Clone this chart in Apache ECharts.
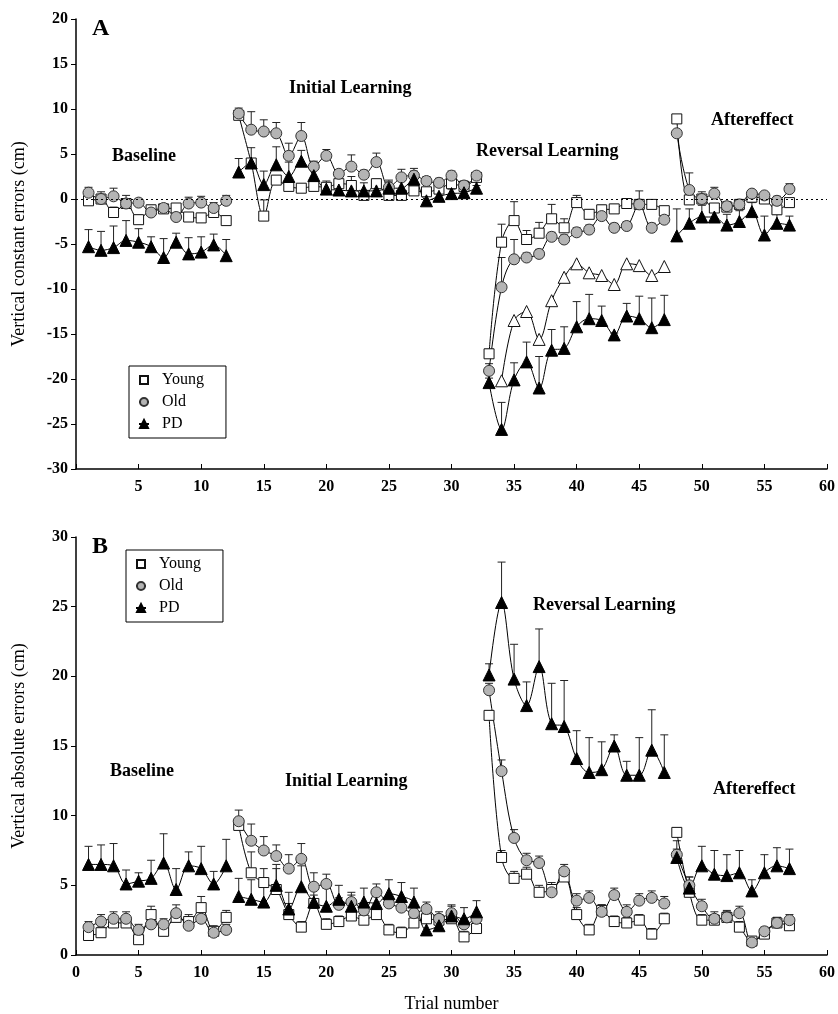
<!DOCTYPE html>
<html>
<head>
<meta charset="utf-8">
<script src="https://cdn.jsdelivr.net/npm/echarts@6/dist/echarts.min.js"></script>
<style>
html,body{margin:0;padding:0;background:#fff;}
#chart{width:838px;height:1014px;}
</style>
</head>
<body>
<div id="chart"></div>
<script>
// ---------- data ----------
const groups = ['Young', 'Old', 'PD'];
const phases = [[1, 12], [13, 32], [33, 47], [48, 57]];
const xTicks = [0, 5, 10, 15, 20, 25, 30, 35, 40, 45, 50, 55, 60];

// Panel A: vertical constant errors (cm), trials 1..57
const A_young = [-0.2, 0.0, -1.5, -0.5, -2.3, -1.2, -1.1, -1.0, -2.0, -2.1, -1.5, -2.4,
  9.3, 4.0, -1.9, 2.1, 1.4, 1.2, 1.4, 1.3, 1.7, 1.5, 0.4, 1.7, 0.4, 0.4, 0.9, 0.8, 1.1, 1.7, 1.4, 2.4,
  -17.2, -4.8, -2.4, -4.5, -3.8, -2.2, -3.2, -0.4, -1.7, -1.2, -1.1, -0.5, -0.6, -0.6, -1.3,
  8.9, -0.1, 0.0, -1.0, -0.9, -0.6, 0.2, 0.0, -1.2, -0.4];
const A_old = [0.7, 0.0, 0.3, -0.5, -0.4, -1.5, -1.0, -2.0, -0.5, -0.4, -1.0, -0.2,
  9.5, 7.7, 7.5, 7.3, 4.8, 7.0, 3.6, 4.8, 2.8, 3.6, 2.7, 4.1, 1.3, 2.4, 2.6, 2.0, 1.8, 2.6, 1.5, 2.6,
  -19.1, -9.8, -6.7, -6.5, -6.1, -4.2, -4.5, -3.7, -3.4, -1.9, -3.2, -3.0, -0.6, -3.2, -2.3,
  7.3, 1.0, 0.0, 0.6, -0.8, -0.6, 0.6, 0.4, -0.2, 1.1];
const A_pd = [-5.3, -5.7, -5.4, -4.6, -4.8, -5.3, -6.5, -4.8, -6.1, -5.9, -5.1, -6.3,
  3.0, 4.0, 1.6, 3.8, 2.5, 4.2, 2.6, 1.1, 1.0, 0.9, 0.9, 0.9, 1.2, 1.2, 2.2, -0.2, 0.3, 0.6, 0.7, 1.2,
  -20.4, -25.6, -20.1, -18.1, -21.0, -16.8, -16.6, -14.2, -13.3, -13.5, -15.1, -13.0, -13.3, -14.3, -13.4,
  -4.1, -2.7, -2.0, -2.0, -2.9, -2.5, -1.4, -4.0, -2.7, -2.9];
// open triangles, reversal trials 34..47
const A_open_trials = [34, 35, 36, 37, 38, 39, 40, 41, 42, 43, 44, 45, 46, 47];
const A_open = [-20.2, -13.5, -12.5, -15.6, -11.3, -8.7, -7.2, -8.2, -8.5, -9.5, -7.2, -7.4, -8.5, -7.5];

const A_young_err = [0.5, 0.5, 0.6, 0.5, 0.5, 0.5, 0.5, 0.5, 0.5, 0.5, 0.5, 0.4,
  0.3, 0.5, 1.8, 0.5, 0.4, 0.4, 0.4, 0.4, 0.5, 1.0, 0.4, 0.5, 0.4, 0.4, 0.4, 0.4, 0.4, 0.5, 0.4, 0.4,
  0.5, 2.0, 2.1, 1.0, 1.2, 1.6, 1.0, 0.8, 0.5, 0.5, 0.5, 0.5, 0.5, 0.2, 0.4,
  0.3, 0.5, 0.8, 0.5, 0.5, 0.5, 0.3, 0.3, 0.5, 0.3];
const A_old_err = [0.6, 0.8, 0.9, 0.9, 0.4, 0.4, 0.4, 0.4, 0.7, 0.7, 0.6, 0.6,
  0.6, 2.0, 1.3, 1.2, 1.4, 1.5, 0.6, 0.7, 0.3, 1.3, 0.5, 1.0, 0.6, 0.9, 0.8, 0.5, 0.5, 0.5, 0.5, 0.3,
  0.8, 3.3, 2.2, 0.5, 0.5, 0.5, 0.5, 0.5, 0.5, 0.5, 0.5, 0.5, 1.5, 0.5, 0.5,
  0.3, 1.9, 0.5, 0.7, 0.5, 0.5, 0.3, 0.3, 0.5, 0.6];
const A_pd_err = [1.9, 2.1, 2.4, 2.2, 1.5, 1.1, 2.1, 1.0, 1.8, 1.7, 1.2, 1.8,
  1.5, 1.7, 1.5, 2.0, 1.6, 1.2, 1.4, 0.9, 1.6, 0.9, 0.9, 0.9, 0.9, 0.9, 0.9, 0.5, 0.5, 0.5, 0.5, 0.3,
  0.5, 3.0, 1.9, 2.2, 3.5, 2.3, 2.4, 2.8, 2.7, 1.6, 0.2, 1.4, 2.5, 3.3, 2.7,
  3.0, 1.6, 1.3, 1.4, 1.2, 1.2, 1.0, 2.1, 1.0, 1.0];

// Panel B: vertical absolute errors (cm)
const B_young = [1.4, 1.6, 2.3, 2.3, 1.1, 2.9, 1.7, 2.7, 2.4, 3.4, 1.7, 2.7,
  9.3, 5.9, 5.2, 4.7, 2.9, 2.0, 3.7, 2.2, 2.4, 2.8, 2.5, 2.9, 1.8, 1.6, 2.3, 2.6, 2.5, 2.6, 1.3, 1.9,
  17.2, 7.0, 5.5, 5.8, 4.5, 4.7, 5.6, 2.9, 1.8, 3.2, 2.4, 2.3, 2.5, 1.5, 2.6,
  8.8, 4.5, 2.5, 2.5, 2.7, 2.0, 1.0, 1.5, 2.3, 2.1];
const B_old = [2.0, 2.4, 2.6, 2.6, 1.8, 2.2, 2.2, 3.0, 2.1, 2.6, 1.6, 1.8,
  9.6, 8.2, 7.5, 7.1, 6.2, 6.9, 4.9, 5.1, 3.6, 3.8, 3.2, 4.5, 3.7, 3.4, 3.0, 3.3, 2.6, 3.0, 2.2, 2.6,
  19.0, 13.2, 8.4, 6.8, 6.6, 4.5, 6.0, 3.9, 4.1, 3.1, 4.3, 3.1, 3.9, 4.1, 3.7,
  7.2, 5.0, 3.5, 2.6, 2.7, 3.0, 0.9, 1.7, 2.3, 2.5];
const B_pd = [6.5, 6.5, 6.4, 5.1, 5.3, 5.5, 6.6, 4.7, 6.4, 6.2, 5.1, 6.4,
  4.2, 4.0, 3.8, 5.0, 3.3, 4.9, 3.8, 3.5, 4.0, 3.5, 3.8, 3.7, 4.4, 4.2, 3.8, 1.8, 2.1, 2.8, 2.6, 3.1,
  20.1, 25.3, 19.8, 17.9, 20.7, 16.6, 16.4, 14.1, 13.1, 13.3, 15.0, 12.9, 12.9, 14.7, 13.1,
  7.0, 4.8, 6.4, 5.8, 5.7, 5.9, 4.6, 5.9, 6.4, 6.2];

const B_young_err = [0.3, 0.4, 0.4, 0.4, 0.3, 0.6, 0.4, 0.5, 0.5, 0.8, 0.4, 0.5,
  0.3, 1.5, 1.0, 1.5, 0.8, 0.4, 0.6, 0.4, 0.4, 0.5, 0.4, 0.5, 0.4, 0.4, 0.4, 0.4, 0.4, 0.4, 0.4, 0.4,
  0.3, 0.5, 0.5, 0.5, 0.5, 0.5, 0.5, 0.5, 0.4, 0.4, 0.4, 0.4, 0.4, 0.4, 0.4,
  0.3, 0.5, 0.4, 0.4, 0.4, 0.4, 0.3, 0.3, 0.4, 0.3];
const B_old_err = [0.4, 0.5, 0.5, 0.5, 0.4, 0.4, 0.4, 0.6, 0.4, 0.5, 0.4, 0.4,
  0.8, 1.2, 1.0, 0.8, 1.0, 1.1, 1.0, 0.7, 0.5, 0.5, 0.5, 0.6, 0.5, 0.5, 0.5, 0.5, 0.5, 0.5, 0.4, 0.4,
  0.5, 0.8, 0.6, 0.5, 0.5, 0.5, 0.5, 0.5, 0.5, 0.5, 0.5, 0.5, 0.5, 0.5, 0.5,
  0.4, 0.6, 0.5, 0.5, 0.5, 0.5, 0.3, 0.3, 0.4, 0.4];
const B_pd_err = [1.3, 1.4, 1.6, 1.0, 0.6, 1.3, 2.1, 1.5, 1.0, 1.6, 0.9, 1.9,
  1.3, 1.4, 1.3, 1.5, 1.2, 1.5, 1.3, 1.3, 1.0, 1.0, 1.0, 1.0, 1.0, 1.0, 1.0, 0.6, 0.6, 0.8, 0.8, 0.8,
  0.8, 2.9, 2.5, 1.7, 2.7, 2.9, 3.3, 2.0, 2.5, 2.0, 0.8, 1.0, 2.7, 2.9, 2.7,
  1.2, 0.8, 1.4, 1.7, 1.5, 1.6, 0.8, 1.3, 1.3, 1.4];

const yTicksA = [-30, -25, -20, -15, -10, -5, 0, 5, 10, 15, 20];
const yTicksB = [0, 5, 10, 15, 20, 25, 30];

// ---------- styles ----------
const SERIF = '"Liberation Serif", "DejaVu Serif", serif';
const styles = {
  Young: { symbol: 'rect', size: 10, itemStyle: { color: '#ffffff', borderColor: '#111', borderWidth: 1 } },
  Old: { symbol: 'circle', size: 11, itemStyle: { color: '#b4b4b4', borderColor: '#333', borderWidth: 1 } },
  PD: { symbol: 'triangle', size: 12, itemStyle: { color: '#000000', borderColor: '#000', borderWidth: 1 } }
};
const openTri = { symbol: 'triangle', size: 12, itemStyle: { color: '#ffffff', borderColor: '#111', borderWidth: 1 } };

const panelData = [
  { Young: [A_young, A_young_err], Old: [A_old, A_old_err], PD: [A_pd, A_pd_err] },
  { Young: [B_young, B_young_err], Old: [B_old, B_old_err], PD: [B_pd, B_pd_err] }
];

const series = [];
function errSeries(p, pts) {
  return {
    type: 'custom', xAxisIndex: p, yAxisIndex: p, z: 1, silent: true,
    data: pts,
    renderItem: function (params, api) {
      const x = api.value(0), y = api.value(1), e = api.value(2);
      const a = api.coord([x, y]);
      const b = api.coord([x, y + e]);
      return {
        type: 'group',
        children: [
          { type: 'line', shape: { x1: a[0], y1: a[1], x2: b[0], y2: b[1] }, style: { stroke: '#222', lineWidth: 1 } },
          { type: 'line', shape: { x1: b[0] - 4, y1: b[1], x2: b[0] + 4, y2: b[1] }, style: { stroke: '#222', lineWidth: 1 } }
        ]
      };
    }
  };
}

for (let p = 0; p < 2; p++) {
  groups.forEach(function (g) {
    const vals = panelData[p][g][0], errs = panelData[p][g][1];
    const ePts = [];
    phases.forEach(function (ph) {
      const d = [];
      for (let t = ph[0]; t <= ph[1]; t++) {
        d.push([t, vals[t - 1]]);
        ePts.push([t, vals[t - 1], errs[t - 1]]);
      }
      const st = styles[g];
      series.push({
        name: g, type: 'line', xAxisIndex: p, yAxisIndex: p, z: 3,
        data: d, smooth: 0.35, symbol: st.symbol, symbolSize: st.size,
        showAllSymbol: true,
        lineStyle: { color: '#000', width: 1 },
        itemStyle: st.itemStyle,
        emphasis: { disabled: true },
        animation: false
      });
    });
    series.push(errSeries(p, ePts));
  });
}
// open triangle series in panel A
series.push({
  name: 'PD (open)', type: 'line', xAxisIndex: 0, yAxisIndex: 0, z: 3,
  data: A_open_trials.map(function (t, i) { return [t, A_open[i]]; }),
  smooth: 0.35, symbol: openTri.symbol, symbolSize: openTri.size,
  lineStyle: { color: '#000', width: 1 }, itemStyle: openTri.itemStyle,
  emphasis: { disabled: true }, animation: false
});
// dotted zero line in panel A
series.push({
  type: 'line', xAxisIndex: 0, yAxisIndex: 0, data: [], silent: true,
  markLine: {
    silent: true, symbol: 'none', label: { show: false },
    lineStyle: { color: '#000', type: [2, 3], width: 1.2 },
    data: [[{ coord: [xTicks[0], 0] }, { coord: [xTicks[xTicks.length - 1], 0] }]]
  }
});

function xAxisCfg(idx, showZero, name) {
  return {
    type: 'value', gridIndex: idx, min: xTicks[0], max: xTicks[xTicks.length - 1], interval: 5,
    axisLine: { show: true, onZero: false, lineStyle: { color: '#000', width: 1.5 } },
    axisTick: { show: true, inside: true, length: 5, lineStyle: { color: '#000' } },
    splitLine: { show: false },
    axisLabel: {
      color: '#000', fontFamily: SERIF, fontWeight: 'bold', fontSize: 16, margin: 10,
      formatter: function (v) { return (v === 0 && !showZero) ? '' : String(v); }
    },
    name: name || '', nameLocation: 'middle', nameGap: 40,
    nameTextStyle: { color: '#000', fontFamily: SERIF, fontSize: 18 }
  };
}
function yAxisCfg(idx, ticks, name) {
  return {
    type: 'value', gridIndex: idx, min: ticks[0], max: ticks[ticks.length - 1], interval: 5,
    axisLine: { show: true, onZero: false, lineStyle: { color: '#000', width: 1.5 } },
    axisTick: { show: true, inside: false, length: 5, lineStyle: { color: '#000' } },
    splitLine: { show: false },
    axisLabel: { color: '#000', fontFamily: SERIF, fontWeight: 'bold', fontSize: 16, margin: 8 },
    name: name, nameLocation: 'middle', nameGap: 48,
    nameTextStyle: { color: '#000', fontFamily: SERIF, fontSize: 18 }
  };
}

const legendCommon = {
  orient: 'vertical', data: groups, itemWidth: 10, itemHeight: 10, itemGap: 6,
  borderColor: '#000', borderWidth: 1, selectedMode: false,
  textStyle: { color: '#000', fontFamily: SERIF, fontSize: 16, padding: [0, 0, 0, 8] }
};

function label(text, x, y, size) {
  return { type: 'text', left: x, top: y, style: { text: text, fill: '#000', font: 'bold ' + (size || 18) + 'px ' + SERIF } };
}

const option = {
  backgroundColor: '#fff',
  animation: false,
  grid: [
    { left: 76, right: 10, top: 19, height: 450 },
    { left: 76, right: 10, top: 537, height: 420 }
  ],
  xAxis: [xAxisCfg(0, false), xAxisCfg(1, true, 'Trial number')],
  yAxis: [yAxisCfg(0, yTicksA, 'Vertical constant errors (cm)'), yAxisCfg(1, yTicksB, 'Vertical absolute errors (cm)')],
  legend: [
    Object.assign({}, legendCommon, { left: 129, top: 366, padding: [6, 22, 6, 9] }),
    Object.assign({}, legendCommon, { left: 126, top: 550, padding: [6, 22, 6, 9] })
  ],
  graphic: [
    label('A', 92, 17, 24),
    label('B', 92, 535, 24),
    label('Baseline', 112, 147),
    label('Initial Learning', 289, 79),
    label('Reversal Learning', 476, 142),
    label('Aftereffect', 711, 111),
    label('Baseline', 110, 762),
    label('Initial Learning', 285, 772),
    label('Reversal Learning', 533, 596),
    label('Aftereffect', 713, 780)
  ],
  series: series
};

const chart = echarts.init(document.getElementById('chart'), null, { renderer: 'canvas' });
chart.setOption(option);
</script>
</body>
</html>
